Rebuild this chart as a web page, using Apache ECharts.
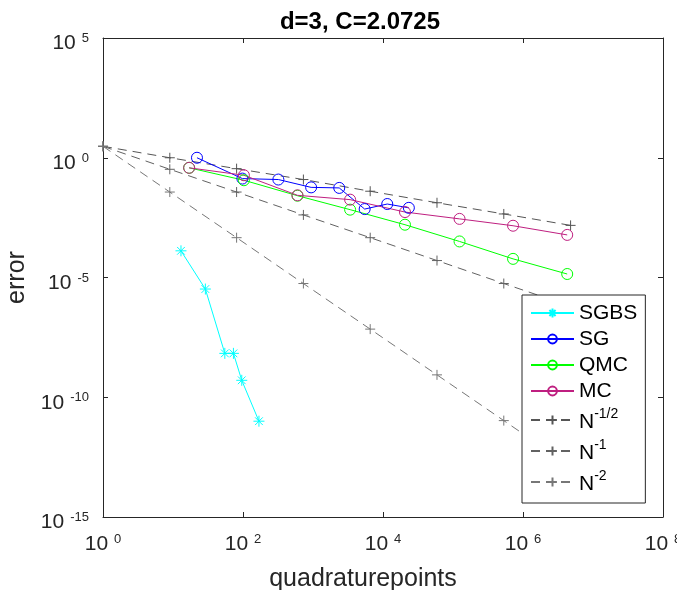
<!DOCTYPE html>
<html>
<head>
<meta charset="utf-8">
<script src="https://cdn.jsdelivr.net/npm/echarts@6/dist/echarts.min.js"></script>
<style>
  html, body { margin: 0; padding: 0; background: #fff; }
  #chart { width: 677px; height: 590px; }
</style>
</head>
<body>
<div id="chart"></div>
<script>
// values
const sgbsN = [13, 29, 55, 73, 96, 169];
const sgbsErr = [1.3e-4, 3.3e-6, 6.8e-9, 6.8e-9, 5.1e-10, 1.0e-11];

const sgN = [22, 98, 320, 940, 2370, 5470, 11500, 23400];
const sgErr = [1.0, 0.135, 0.123, 0.058, 0.055, 0.0072, 0.0117, 0.0081];

const mcN = [17, 103, 600, 3390, 20600, 124000, 721000, 4280000];
const qmcErr = [0.38, 0.115, 0.026, 0.0068, 0.0016, 3.2e-4, 6.0e-5, 1.4e-5];
const mcErr = [0.38, 0.186, 0.027, 0.0178, 0.0054, 0.0028, 0.00145, 0.0006];

const refN = [1, 9, 81, 729, 6561, 59049, 531441, 4782969];
const refHalf = [3, 1.0, 0.35, 0.123, 0.040, 0.0132, 0.0045, 0.0015];
const refOne = [3, 0.33, 0.037, 0.0041, 4.6e-4, 5.1e-5, 5.6e-6, 6.3e-7];
const refTwo = [3, 0.037, 4.6e-4, 5.6e-6, 7.0e-8, 8.6e-10, 1.06e-11, 1.3e-13];

const xTicks = [1, 1e2, 1e4, 1e6, 1e8];
const yTicks = [1e-15, 1e-10, 1e-5, 1, 1e5];

const FONT = 'Liberation Sans';
const INK = '#262626';

const pairs = (xs, ys) => xs.map((x, i) => [x, ys[i]]);

const plusSym = 'path://M0,-1L0,1M-1,0L1,0';
const starSym = 'path://M0,-1L0,1M-1,0L1,0M-0.7,-0.7L0.7,0.7M-0.7,0.7L0.7,-0.7';

const powLabel = (v) => '{b|10}{s|' + Math.round(Math.log10(v)) + '}';
const powRich = {
    b: { fontFamily: FONT, fontSize: 21, color: INK, lineHeight: 22, verticalAlign: 'bottom' },
    s: { fontFamily: FONT, fontSize: 13, color: INK, lineHeight: 12, verticalAlign: 'top', padding: [0, 0, 0, 6] }
};

function logAxis(pos, min, max, ticks, main, margin, pad) {
    return {
        type: 'log',
        logBase: 10,
        position: pos,
        min: min,
        max: max,
        axisLine: { show: true, lineStyle: { color: INK, width: 1 } },
        axisTick: { show: true, inside: true, length: 5, customValues: ticks, lineStyle: { color: INK } },
        axisLabel: main ? {
            show: true,
            customValues: ticks,
            formatter: powLabel,
            rich: powRich,
            margin: margin,
            padding: pad
        } : { show: false },
        splitLine: { show: false },
        minorTick: { show: false }
    };
}

const refLine = (name, data, color) => ({
    name: name,
    type: 'line',
    data: data,
    symbol: plusSym,
    symbolSize: 10,
    itemStyle: { color: 'none', borderColor: color, borderWidth: 1 },
    lineStyle: { color: color, width: 1, type: [9, 6] },
    emphasis: { disabled: true },
    z: 1
});

const circleLine = (name, data, color) => ({
    name: name,
    type: 'line',
    data: data,
    symbol: 'circle',
    symbolSize: 11,
    showAllSymbol: true,
    itemStyle: { color: 'none', borderColor: color, borderWidth: 1 },
    lineStyle: { color: color, width: 1 },
    emphasis: { disabled: true },
    z: 3
});

const chart = echarts.init(document.getElementById('chart'), null, { renderer: 'canvas' });

const option = {
    animation: false,
    backgroundColor: '#fff',
    title: {
        text: 'd=3, C=2.0725',
        left: 355,
        textAlign: 'center',
        top: 5,
        textStyle: { fontFamily: FONT, fontSize: 24, fontWeight: 'bold', color: '#000' }
    },
    grid: { left: 103, right: 14, top: 38, bottom: 73, containLabel: false, outerBoundsMode: 'none' },
    xAxis: [
        Object.assign(logAxis('bottom', 1, 1e8, xTicks, true, 16, 0), {
            name: 'quadraturepoints',
            nameLocation: 'middle',
            nameGap: 50,
            nameTextStyle: { fontFamily: FONT, fontSize: 25, color: INK, padding: [0, 40, 0, 0] }
        }),
        logAxis('top', 1, 1e8, xTicks, false, 0, 0)
    ],
    yAxis: [
        Object.assign(logAxis('left', 1e-15, 1e5, yTicks, true, 14, [10, 0, 0, 0]), {
            name: 'error',
            nameLocation: 'middle',
            nameGap: 72,
            nameTextStyle: { fontFamily: FONT, fontSize: 25, color: INK }
        }),
        logAxis('right', 1e-15, 1e5, yTicks, false, 0, 0)
    ],
    legend: {
        orient: 'vertical',
        left: 522,
        top: 295,
        width: 120,
        backgroundColor: '#fff',
        borderColor: INK,
        borderWidth: 1,
        borderRadius: 0,
        padding: [8, 8, 8, 8],
        itemWidth: 43,
        itemHeight: 11,
        itemGap: 5,
        selectedMode: false,
        data: ['SGBS', 'SG', 'QMC', 'MC', 'N^-1/2', 'N^-1', 'N^-2'],
        formatter: (name) => {
            const m = name.split('^');
            return m.length > 1 ? '{n|' + m[0] + '}{e|' + m[1] + '}' : '{n|' + name + '}';
        },
        textStyle: {
            fontFamily: FONT,
            fontSize: 21,
            color: '#000',
            rich: {
                n: { fontFamily: FONT, fontSize: 21, color: '#000', lineHeight: 22, verticalAlign: 'bottom' },
                e: { fontFamily: FONT, fontSize: 14, color: '#000', lineHeight: 26, verticalAlign: 'top' }
            }
        }
    },
    series: [
        {
            name: 'SGBS',
            type: 'line',
            data: pairs(sgbsN, sgbsErr),
            symbol: starSym,
            symbolSize: 11,
            itemStyle: { color: 'none', borderColor: '#00ffff', borderWidth: 1 },
            lineStyle: { color: '#00ffff', width: 1 },
            emphasis: { disabled: true },
            z: 3
        },
        circleLine('SG', pairs(sgN, sgErr), '#0000ff'),
        circleLine('QMC', pairs(mcN, qmcErr), '#00ff00'),
        circleLine('MC', pairs(mcN, mcErr), '#bf1f80'),
        refLine('N^-1/2', pairs(refN, refHalf), '#555555'),
        refLine('N^-1', pairs(refN, refOne), '#626262'),
        refLine('N^-2', pairs(refN, refTwo), '#777777')
    ]
};

chart.setOption(option);
</script>
</body>
</html>
